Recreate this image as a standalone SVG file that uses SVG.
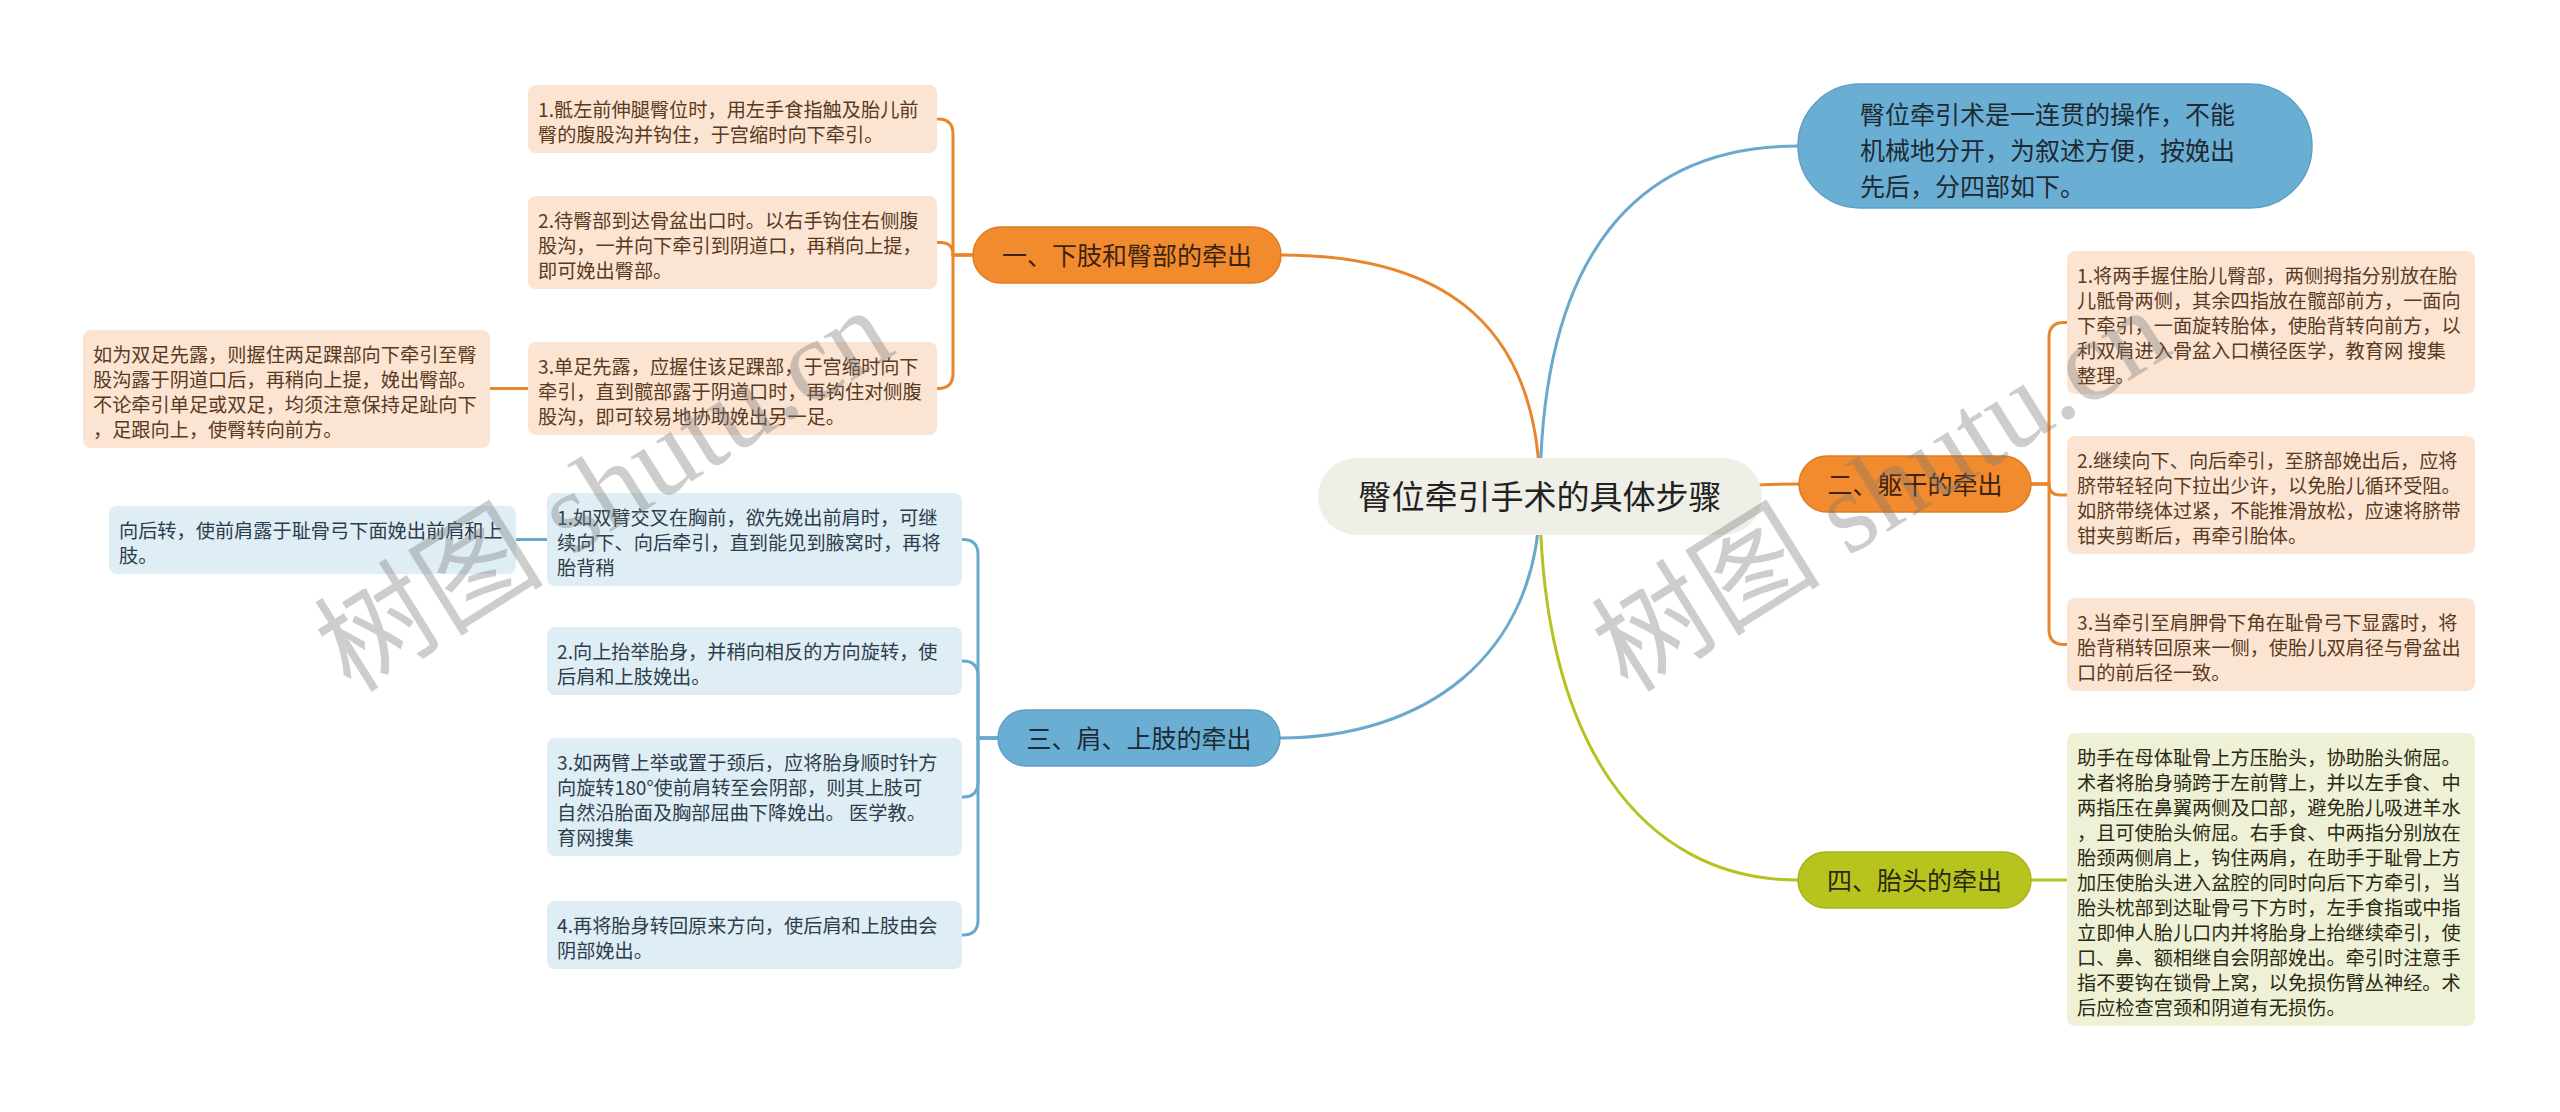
<svg xmlns="http://www.w3.org/2000/svg" width="2560" height="1112" viewBox="0 0 2560 1112">
<style>
text{font-family:"Noto Sans CJK SC","Noto Sans",sans-serif}
.c{fill:none;stroke-width:3;stroke-linecap:round}
.co{stroke:#E8862E}.cb{stroke:#6AA9CD}.cg{stroke:#B6C21F}
.lo{fill:#FCE4D3}.lb{fill:#DFEDF5}.lg{fill:#EFF1D6}
.t{font-size:19.2px}
.to{fill:#5a3a1e}.tb{fill:#2d3d4c}.tg{fill:#2a2a14}
.bn{font-size:25px;text-anchor:middle}
.wm{font-family:"Liberation Serif","Noto Sans CJK SC",serif;font-size:115px;fill:#777;opacity:0.36}
</style>
<rect width="2560" height="1112" fill="#ffffff"/>
<g id="connectors">
<path class="c co" d="M1540 496 C1540 330 1450 255 1281 255"/>
<path class="c cb" d="M1540 496 C1540 250 1640 146 1798 146"/>
<path class="c co" d="M1540 496 C1650 496 1700 484 1799 484"/>
<path class="c cb" d="M1540 496 C1540 660 1420 738 1280 738"/>
<path class="c cg" d="M1540 496 C1540 740 1640 880 1798 880"/>
<path class="c co" d="M973 255 H953 V134 Q953 119 938 119 H937"/>
<path class="c co" d="M973 255 H953 Q953 242.5 940.5 242.5 H937"/>
<path class="c co" d="M973 255 H953 V373.5 Q953 388.5 938 388.5 H937"/>
<path class="c co" d="M528 388.5 H490"/>
<path class="c cb" d="M998 738 H978 V554.5 Q978 539.5 963 539.5 H962"/>
<path class="c cb" d="M998 738 H978 V676 Q978 661 963 661 H962"/>
<path class="c cb" d="M998 738 H978 V782 Q978 797 963 797 H962"/>
<path class="c cb" d="M998 738 H978 V920 Q978 935 963 935 H962"/>
<path class="c cb" d="M547 539.5 H516"/>
<path class="c co" d="M2031 484 H2049 V337.5 Q2049 322.5 2064 322.5 H2067"/>
<path class="c co" d="M2031 484 H2049 Q2049 495 2060 495 H2067"/>
<path class="c co" d="M2031 484 H2049 V629.5 Q2049 644.5 2064 644.5 H2067"/>
<path class="c cg" d="M2031 880 H2067"/>
</g>
<g id="root">
<rect x="1318" y="458" width="444" height="77" rx="38.5" fill="#EFEFE8"/>
<text x="1540" y="509" font-size="33" text-anchor="middle" fill="#222">臀位牵引手术的具体步骤</text>
</g>
<g id="intro">
<rect x="1798" y="84" width="514" height="124" rx="62" fill="#6AAFD3" stroke="#5f9fc2" stroke-width="1.5"/>
<text x="1860" y="124" font-size="25" fill="#1e2a33"><tspan x="1860">臀位牵引术是一连贯的操作，不能</tspan><tspan x="1860" dy="36">机械地分开，为叙述方便，按娩出</tspan><tspan x="1860" dy="36">先后，分四部如下。</tspan></text>
</g>
<g id="b1">
<rect x="973" y="227" width="308" height="56" rx="28" fill="#F28B2D" stroke="#e07c22" stroke-width="1.5"/>
<text class="bn" x="1127" y="264.5" fill="#3b2412">一、下肢和臀部的牵出</text>
</g>
<g id="b2">
<rect x="1799" y="456" width="232" height="56" rx="28" fill="#F28B2D" stroke="#e07c22" stroke-width="1.5"/>
<text class="bn" x="1915" y="493.5" fill="#3b2412">二、躯干的牵出</text>
</g>
<g id="b3">
<rect x="998" y="710" width="282" height="56" rx="28" fill="#6AAFD3" stroke="#5f9fc2" stroke-width="1.5"/>
<text class="bn" x="1139" y="747.5" fill="#1e2a33">三、肩、上肢的牵出</text>
</g>
<g id="b4">
<rect x="1798" y="852" width="233" height="56" rx="28" fill="#B8C41E" stroke="#a9b516" stroke-width="1.5"/>
<text class="bn" x="1914.5" y="889.5" fill="#2a2a10">四、胎头的牵出</text>
</g>
<g id="l1">
<rect class="lo" x="528" y="85" width="409" height="68" rx="8"/>
<text class="t to" x="538" y="116.5"><tspan x="538">1.骶左前伸腿臀位时，用左手食指触及胎儿前</tspan><tspan x="538" dy="25">臀的腹股沟并钩住，于宫缩时向下牵引。</tspan></text>
</g>
<g id="l2">
<rect class="lo" x="528" y="196" width="409" height="93" rx="8"/>
<text class="t to" x="538" y="227.5"><tspan x="538">2.待臀部到达骨盆出口时。以右手钩住右侧腹</tspan><tspan x="538" dy="25">股沟，一并向下牵引到阴道口，再稍向上提，</tspan><tspan x="538" dy="25">即可娩出臀部。</tspan></text>
</g>
<g id="l3">
<rect class="lo" x="528" y="342" width="409" height="93" rx="8"/>
<text class="t to" x="538" y="373.5"><tspan x="538">3.单足先露，应握住该足踝部，于宫缩时向下</tspan><tspan x="538" dy="25">牵引，直到髋部露于阴道口时，再钩住对侧腹</tspan><tspan x="538" dy="25">股沟，即可较易地协助娩出另一足。</tspan></text>
</g>
<g id="l3a">
<rect class="lo" x="83" y="330" width="407" height="118" rx="8"/>
<text class="t to" x="93" y="361.5"><tspan x="93">如为双足先露，则握住两足踝部向下牵引至臀</tspan><tspan x="93" dy="25">股沟露于阴道口后，再稍向上提，娩出臀部。</tspan><tspan x="93" dy="25">不论牵引单足或双足，均须注意保持足趾向下</tspan><tspan x="93" dy="25">，足跟向上，使臀转向前方。</tspan></text>
</g>
<g id="s1">
<rect class="lb" x="547" y="493" width="415" height="93" rx="8"/>
<text class="t tb" x="557" y="524.5"><tspan x="557">1.如双臂交叉在胸前，欲先娩出前肩时，可继</tspan><tspan x="557" dy="25">续向下、向后牵引，直到能见到腋窝时，再将</tspan><tspan x="557" dy="25">胎背稍</tspan></text>
</g>
<g id="s1a">
<rect class="lb" x="109" y="506" width="407" height="68" rx="8"/>
<text class="t tb" x="119" y="537.5"><tspan x="119">向后转，使前肩露于耻骨弓下面娩出前肩和上</tspan><tspan x="119" dy="25">肢。</tspan></text>
</g>
<g id="s2">
<rect class="lb" x="547" y="627" width="415" height="68" rx="8"/>
<text class="t tb" x="557" y="658.5"><tspan x="557">2.向上抬举胎身，并稍向相反的方向旋转，使</tspan><tspan x="557" dy="25">后肩和上肢娩出。</tspan></text>
</g>
<g id="s3">
<rect class="lb" x="547" y="738" width="415" height="118" rx="8"/>
<text class="t tb" x="557" y="769.5"><tspan x="557">3.如两臂上举或置于颈后，应将胎身顺时针方</tspan><tspan x="557" dy="25">向旋转180°使前肩转至会阴部，则其上肢可</tspan><tspan x="557" dy="25">自然沿胎面及胸部屈曲下降娩出。 医学教。</tspan><tspan x="557" dy="25">育网搜集</tspan></text>
</g>
<g id="s4">
<rect class="lb" x="547" y="901" width="415" height="68" rx="8"/>
<text class="t tb" x="557" y="932.5"><tspan x="557">4.再将胎身转回原来方向，使后肩和上肢由会</tspan><tspan x="557" dy="25">阴部娩出。</tspan></text>
</g>
<g id="r1">
<rect class="lo" x="2067" y="251" width="408" height="143" rx="8"/>
<text class="t to" x="2077" y="282.5"><tspan x="2077">1.将两手握住胎儿臀部，两侧拇指分别放在胎</tspan><tspan x="2077" dy="25">儿骶骨两侧，其余四指放在髋部前方，一面向</tspan><tspan x="2077" dy="25">下牵引，一面旋转胎体，使胎背转向前方，以</tspan><tspan x="2077" dy="25">利双肩进入骨盆入口横径医学，教育网 搜集</tspan><tspan x="2077" dy="25">整理。</tspan></text>
</g>
<g id="r2">
<rect class="lo" x="2067" y="436" width="408" height="118" rx="8"/>
<text class="t to" x="2077" y="467.5"><tspan x="2077">2.继续向下、向后牵引，至脐部娩出后，应将</tspan><tspan x="2077" dy="25">脐带轻轻向下拉出少许，以免胎儿循环受阻。</tspan><tspan x="2077" dy="25">如脐带绕体过紧，不能推滑放松，应速将脐带</tspan><tspan x="2077" dy="25">钳夹剪断后，再牵引胎体。</tspan></text>
</g>
<g id="r3">
<rect class="lo" x="2067" y="598" width="408" height="93" rx="8"/>
<text class="t to" x="2077" y="629.5"><tspan x="2077">3.当牵引至肩胛骨下角在耻骨弓下显露时，将</tspan><tspan x="2077" dy="25">胎背稍转回原来一侧，使胎儿双肩径与骨盆出</tspan><tspan x="2077" dy="25">口的前后径一致。</tspan></text>
</g>
<g id="g1">
<rect class="lg" x="2067" y="733" width="408" height="293" rx="8"/>
<text class="t tg" x="2077" y="764.5"><tspan x="2077">助手在母体耻骨上方压胎头，协助胎头俯屈。</tspan><tspan x="2077" dy="25">术者将胎身骑跨于左前臂上，并以左手食、中</tspan><tspan x="2077" dy="25">两指压在鼻翼两侧及口部，避免胎儿吸进羊水</tspan><tspan x="2077" dy="25">，且可使胎头俯屈。右手食、中两指分别放在</tspan><tspan x="2077" dy="25">胎颈两侧肩上，钩住两肩，在助手于耻骨上方</tspan><tspan x="2077" dy="25">加压使胎头进入盆腔的同时向后下方牵引，当</tspan><tspan x="2077" dy="25">胎头枕部到达耻骨弓下方时，左手食指或中指</tspan><tspan x="2077" dy="25">立即伸人胎儿口内并将胎身上抬继续牵引，使</tspan><tspan x="2077" dy="25">口、鼻、额相继自会阴部娩出。牵引时注意手</tspan><tspan x="2077" dy="25">指不要钩在锁骨上窝，以免损伤臂丛神经。术</tspan><tspan x="2077" dy="25">后应检查宫颈和阴道有无损伤。</tspan></text>
</g>
<g id="watermarks">
<text class="wm" transform="translate(351 694) rotate(-32)">树图 shutu.cn</text>
<text class="wm" transform="translate(1628 694) rotate(-32)">树图 shutu.cn</text>
</g>
</svg>
